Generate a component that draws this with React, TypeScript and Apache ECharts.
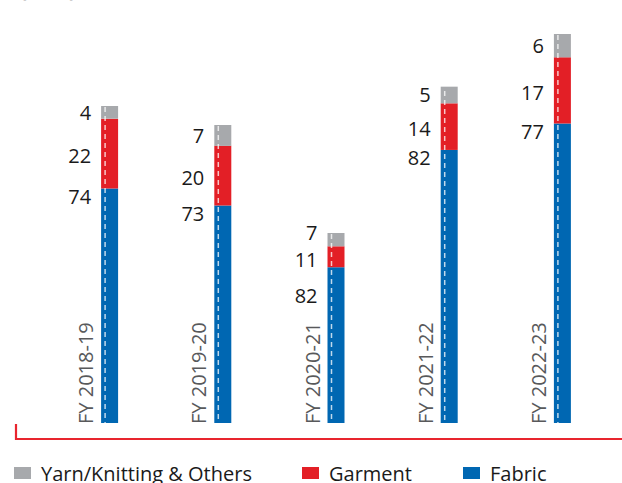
import React, { useEffect, useRef } from "react";
import * as echarts from "echarts";

const categories = ["FY 2018-19", "FY 2019-20", "FY 2020-21", "FY 2021-22", "FY 2022-23"];
// relative size of each year's bar (index, height of whole stack)
const barTotals = [317, 298, 190, 333, 389];
// share (%) of each segment
const fabricPct = [74, 73, 82, 82, 77];
const garmentPct = [22, 20, 11, 14, 17];
const yarnPct = [4, 7, 7, 5, 6];

const seriesNames = ["Yarn/Knitting & Others", "Garment", "Fabric"];
const colors = { yarn: "#a7a9ac", garment: "#e31f26", fabric: "#0067b2" };
const FONT = "'Open Sans', 'Noto Sans', sans-serif";

export default function App() {
  const ref = useRef<HTMLDivElement>(null);
  useEffect(() => {
    if (!ref.current) return;
    const chart = echarts.init(ref.current, null, { renderer: "svg" });
    const seg = (pct: number[]) => pct.map((p, i) => (p * barTotals[i]) / 100);
    const labelBase = {
      show: true,
      fontFamily: FONT,
      fontSize: 20,
      color: "#1a1a1a",
    };
    const fabricData = seg(fabricPct).map((v, i) => ({
      value: v,
      label: { position: [-10, i === 2 ? 28 : 8] as any },
    }));
    const garmentData = seg(garmentPct).map((v, i) => ({
      value: v,
      label: { offset: [0, i === 2 ? 3 : 2] },
    }));
    const yarnData = seg(yarnPct).map((v, i) => ({
      value: v,
      label: { offset: [0, i === 2 ? -7 : 0] },
    }));
    const option: any = {
      animation: false,
      grid: { left: 53, right: 3, top: 23, bottom: 60 },
      xAxis: {
        type: "category",
        data: categories,
        axisLine: { show: false },
        axisTick: { show: false },
        axisLabel: { show: false },
      },
      yAxis: { type: "value", min: 0, max: 400, show: false, splitLine: { show: false } },
      legend: [
        { name: 0, left: 14, color: colors.yarn },
        { name: 1, left: 302, color: colors.garment },
        { name: 2, left: 463, color: colors.fabric },
      ].map((l) => ({
        data: [seriesNames[l.name as number]],
        left: l.left,
        top: 463,
        icon: "rect",
        itemWidth: 17,
        itemHeight: 12,
        padding: 0,
        textStyle: {
          fontFamily: FONT,
          fontSize: 20,
          color: "#1a1a1a",
          padding: [0, 0, 0, 5],
        },
      })),
      graphic: [
        {
          type: "text",
          left: 20,
          top: -21,
          style: { text: "(in %)", fontFamily: FONT, fontSize: 20, fontWeight: "bold", fill: "#3a3a3a" },
        },
        {
          type: "polyline",
          shape: { points: [[16, 424], [16, 439], [622, 439]] },
          style: { stroke: "#e8252e", lineWidth: 2.2, fill: "none" },
        },
      ],
      series: [
        {
          name: seriesNames[2],
          type: "bar",
          stack: "s",
          barWidth: 17,
          itemStyle: { color: colors.fabric },
          label: {
            ...labelBase,
            position: [-10, 8],
            align: "right",
            verticalAlign: "middle",
            formatter: (p: any) => String(fabricPct[p.dataIndex]),
          },
          data: fabricData,
        },
        {
          name: seriesNames[1],
          type: "bar",
          stack: "s",
          barWidth: 17,
          itemStyle: { color: colors.garment },
          label: {
            ...labelBase,
            position: "left",
            distance: 10,
            formatter: (p: any) => String(garmentPct[p.dataIndex]),
          },
          data: garmentData,
        },
        {
          name: seriesNames[0],
          type: "bar",
          stack: "s",
          barWidth: 17,
          itemStyle: { color: colors.yarn },
          label: {
            ...labelBase,
            position: "left",
            distance: 10,
            formatter: (p: any) => String(yarnPct[p.dataIndex]),
          },
          data: yarnData,
        },
        {
          type: "custom",
          silent: true,
          z: 10,
          data: barTotals.map((t, i) => [i, t]),
          renderItem: (params: any, api: any) => {
            const idx = api.value(0);
            const top = api.coord([idx, api.value(1)]);
            const bottom = api.coord([idx, 0]);
            const cx = top[0];
            return {
              type: "group",
              children: [
                {
                  type: "line",
                  shape: { x1: cx - 4.5, y1: top[1] + 1, x2: cx - 4.5, y2: bottom[1] },
                  style: {
                    stroke: "rgba(255,255,255,0.75)",
                    lineWidth: 1.5,
                    lineDash: [5, 4],
                  },
                },
                {
                  type: "text",
                  x: cx - 24,
                  y: bottom[1] + 1,
                  rotation: Math.PI / 2,
                  style: {
                    text: categories[idx],
                    fontFamily: FONT,
                    fontSize: 20,
                    fill: "#58595b",
                    align: "left",
                    verticalAlign: "middle",
                  },
                },
              ],
            };
          },
        },
      ],
    };
    chart.setOption(option);
    return () => chart.dispose();
  }, []);
  return <div ref={ref} style={{ width: 622, height: 483, position: "absolute", left: 0, top: 0 }} />;
}
